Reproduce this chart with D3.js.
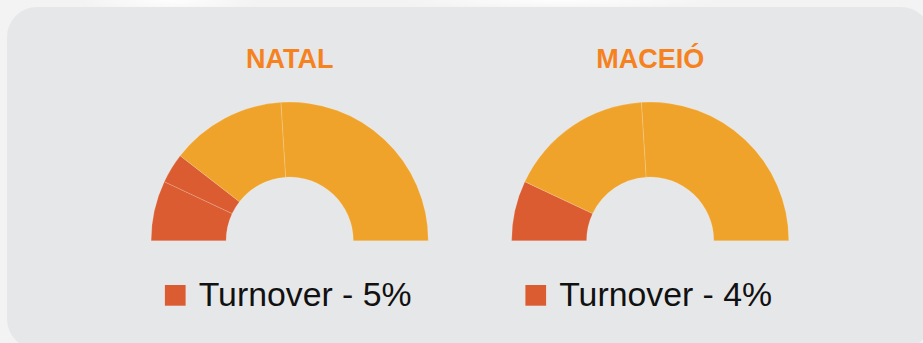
<!DOCTYPE html>
<html>
<head>
<meta charset="utf-8">
<script src="https://cdn.jsdelivr.net/npm/d3@7"></script>
<style>
  html, body { margin: 0; padding: 0; background: #f3f3f3; }
  svg { display: block; }
</style>
</head>
<body>
<svg id="chart" width="923" height="343"></svg>
<script>
// Cities shown, one half-donut each
const cities = ["NATAL", "MACEIÓ"];
// Slice shares of each half-donut, left to right along the arc
const natalShares = [14, 7, 27, 52];
const maceioShares = [14, 34, 52];
// Slice kinds: turnover slices are red, the rest orange
const natalKinds = ["turnover", "turnover", "other", "other"];
const maceioKinds = ["turnover", "other", "other"];
// Legend labels under each chart
const legendLabels = ["Turnover - 5%", "Turnover - 4%"];

const seriesList = [
  { city: cities[0], shares: natalShares, kinds: natalKinds, legend: legendLabels[0] },
  { city: cities[1], shares: maceioShares, kinds: maceioKinds, legend: legendLabels[1] }
];

const W = 923, H = 343;
const svg = d3.select("#chart");

// Page backdrop with a soft light patch
const defs = svg.append("defs");
const glow = defs.append("radialGradient").attr("id", "glow");
glow.append("stop").attr("offset", "0%").attr("stop-color", "#ffffff").attr("stop-opacity", 0.9);
glow.append("stop").attr("offset", "100%").attr("stop-color", "#ffffff").attr("stop-opacity", 0);
svg.append("rect").attr("width", W).attr("height", H).attr("fill", "#f3f3f3");
svg.append("ellipse").attr("cx", 170).attr("cy", 0).attr("rx", 90).attr("ry", 14).attr("fill", "url(#glow)");
svg.append("ellipse").attr("cx", 560).attr("cy", 0).attr("rx", 160).attr("ry", 10).attr("fill", "url(#glow)");

// Grey rounded panel
svg.append("rect")
  .attr("x", 7).attr("y", 7)
  .attr("width", 924).attr("height", 342)
  .attr("rx", 30).attr("ry", 30)
  .attr("fill", "#e6e7e8");

const color = d3.scaleOrdinal()
  .domain(["turnover", "other"])
  .range(["#dc5c31", "#f0a32a"]);

const cx = d3.scalePoint()
  .domain(cities)
  .range([289.7, 650.2]);

const cy = 240.7;
const outerR = 138.6;
const innerR = 63.6;

const pie = d3.pie()
  .sort(null)
  .startAngle(-Math.PI / 2)
  .endAngle(Math.PI / 2);

const arc = d3.arc().innerRadius(innerR).outerRadius(outerR);

const groups = svg.selectAll("g.city")
  .data(seriesList)
  .join("g")
  .attr("class", "city")
  .attr("transform", d => `translate(${cx(d.city)},${cy})`);

groups.selectAll("path")
  .data(d => pie(d.shares).map((p, i) => ({ ...p, kind: d.kinds[i] })))
  .join("path")
  .attr("d", arc)
  .attr("fill", d => color(d.kind))
  .attr("stroke", "rgba(255,255,255,0.28)")
  .attr("stroke-width", 0.6);

// City titles
groups.append("text")
  .attr("x", 0)
  .attr("y", 67.5 - cy)
  .attr("text-anchor", "middle")
  .attr("font-family", "'Liberation Sans', Arial, Helvetica, sans-serif")
  .attr("font-weight", "bold")
  .attr("font-size", 27)
  .attr("fill", "#f5821f")
  .text(d => d.city);

// Legend swatch and label
groups.append("rect")
  .attr("x", -124.8)
  .attr("y", 285 - cy)
  .attr("width", 20.7)
  .attr("height", 20.7)
  .attr("fill", color("turnover"));

groups.append("text")
  .attr("x", -91)
  .attr("y", 306 - cy)
  .attr("font-family", "'Liberation Sans', Arial, Helvetica, sans-serif")
  .attr("font-size", 33.8)
  .attr("fill", "#111111")
  .text(d => d.legend);
</script>
</body>
</html>
